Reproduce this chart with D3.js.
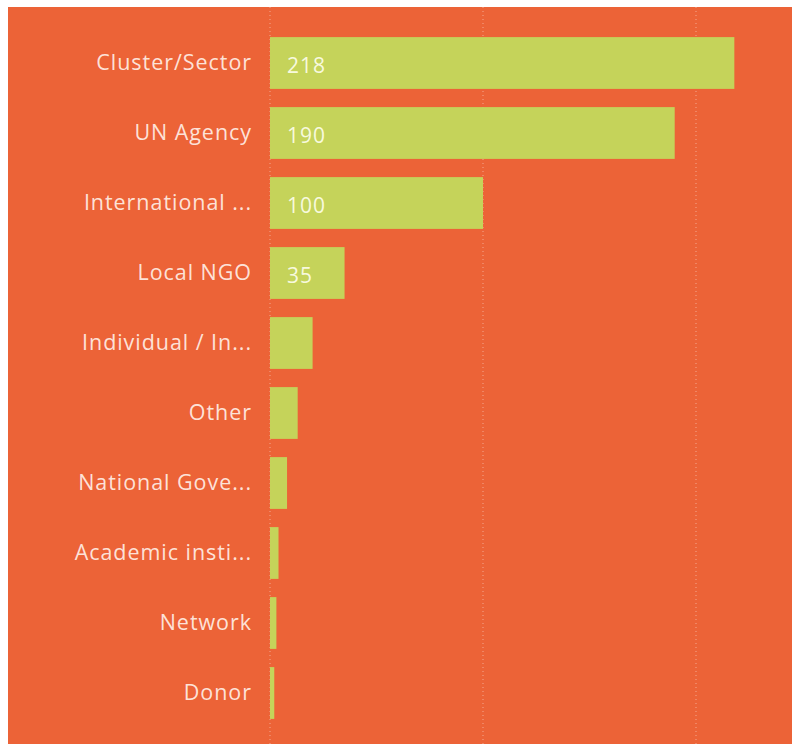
<!DOCTYPE html>
<html>
<head>
<meta charset="utf-8">
<script src="https://cdn.jsdelivr.net/npm/d3@7/dist/d3.min.js"></script>
<style>
  html, body { margin: 0; padding: 0; background: #ffffff; }
  svg { display: block; }
</style>
</head>
<body>
<svg id="chart" width="792" height="744"></svg>
<script>
// Organisation types (labels as shown, truncated by the report visual)
const categories = [
  "Cluster/Sector",
  "UN Agency",
  "International ...",
  "Local NGO",
  "Individual / In...",
  "Other",
  "National Gove...",
  "Academic insti...",
  "Network",
  "Donor"
];
const counts = [218, 190, 100, 35, 20, 13, 8, 4, 3, 2];
const gridTicks = [0, 100, 200];

const W = 792, H = 744;
const panel = { x: 8, y: 7 };
const margin = { left: 270, top: 28 };

const svg = d3.select("#chart");

// orange panel
svg.append("rect")
  .attr("x", panel.x).attr("y", panel.y)
  .attr("width", W - panel.x).attr("height", H - panel.y)
  .attr("fill", "#EC6337");

const x = d3.scaleLinear()
  .domain([0, 200])
  .range([margin.left, 696]);

const y = d3.scaleBand()
  .domain(categories)
  .range([margin.top, margin.top + 700])
  .paddingInner(0.26)
  .paddingOuter(0.13);

// dotted vertical gridlines
svg.append("g")
  .selectAll("line")
  .data(gridTicks)
  .join("line")
  .attr("x1", d => x(d)).attr("x2", d => x(d))
  .attr("y1", panel.y).attr("y2", H)
  .attr("stroke", "rgba(255,255,255,0.45)")
  .attr("stroke-width", 1)
  .attr("stroke-dasharray", "1,3");

const rows = categories.map((c, i) => ({ cat: c, val: counts[i] }));

// bars
svg.append("g")
  .selectAll("rect")
  .data(rows)
  .join("rect")
  .attr("x", x(0))
  .attr("y", d => y(d.cat))
  .attr("width", d => x(d.val) - x(0))
  .attr("height", y.bandwidth())
  .attr("fill", "#C5D35A");

// category labels
svg.append("g")
  .selectAll("text")
  .data(rows)
  .join("text")
  .attr("x", 252)
  .attr("y", d => y(d.cat) + y.bandwidth() / 2 - 1)
  .attr("dy", "0.35em")
  .attr("text-anchor", "end")
  .attr("font-family", "'Open Sans', sans-serif")
  .attr("font-size", 21.5)
  .attr("letter-spacing", 0.95)
  .attr("fill", "rgba(255,240,232,0.92)")
  .text(d => d.cat);

// value labels inside bars wide enough to hold them
svg.append("g")
  .selectAll("text")
  .data(rows.filter(d => x(d.val) - x(0) > 60))
  .join("text")
  .attr("x", x(0) + 17)
  .attr("y", d => y(d.cat) + y.bandwidth() / 2 + 3)
  .attr("dy", "0.35em")
  .attr("font-family", "'Open Sans', sans-serif")
  .attr("font-size", 21)
  .attr("letter-spacing", 1)
  .attr("fill", "rgba(255,255,240,0.9)")
  .text(d => d.val);
</script>
</body>
</html>
